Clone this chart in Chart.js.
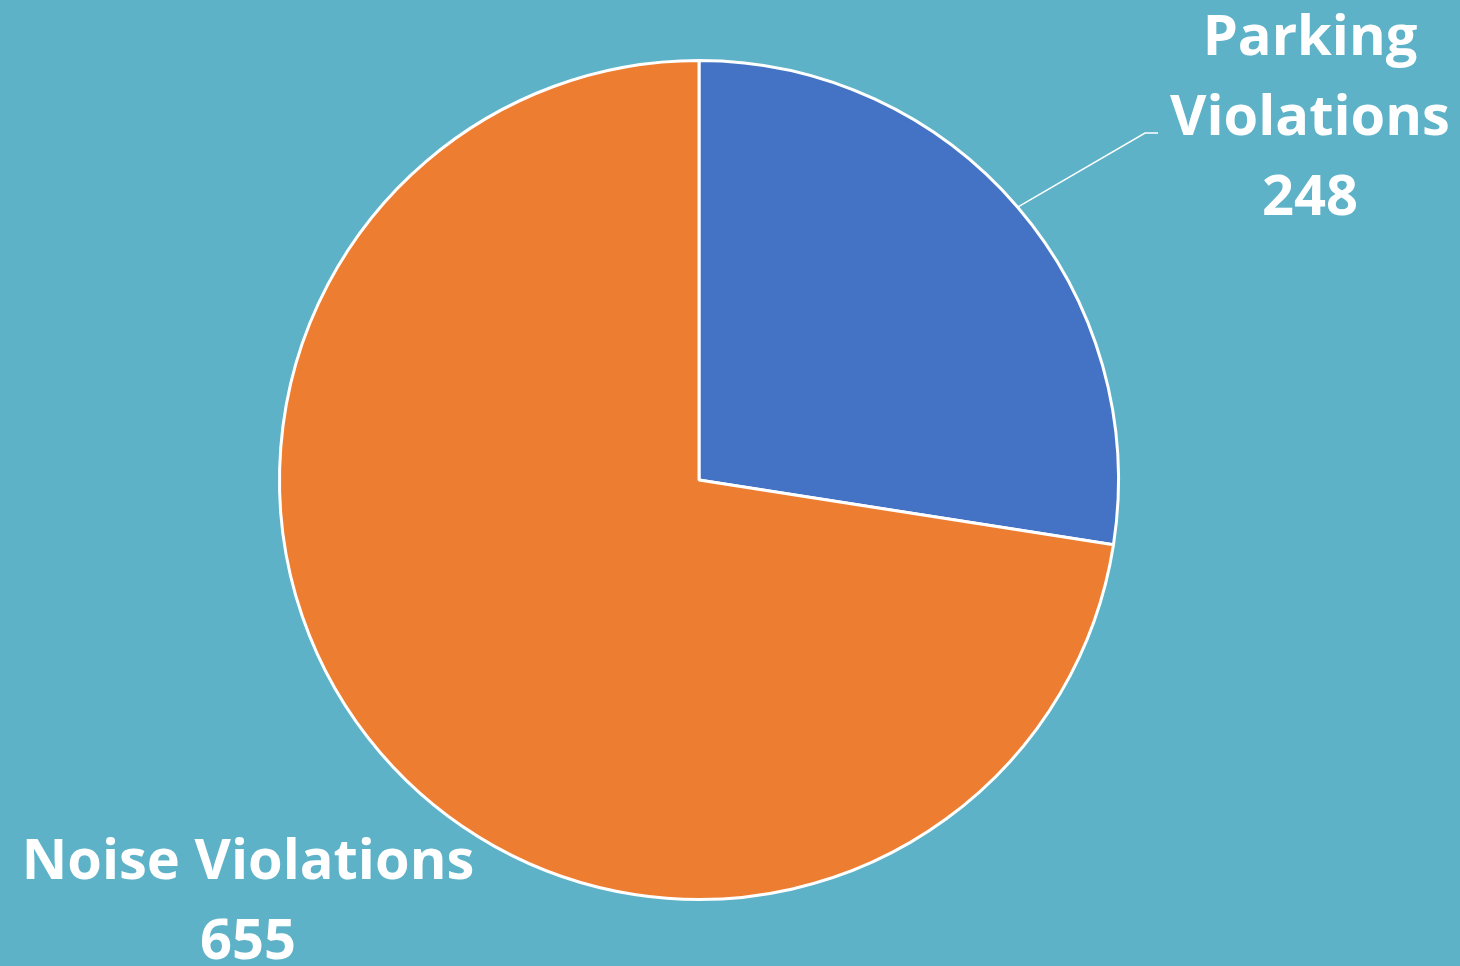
<!DOCTYPE html>
<html>
<head>
<meta charset="utf-8">
<script src="https://cdn.jsdelivr.net/npm/chart.js@4"></script>
<style>
  html, body { margin: 0; padding: 0; background: #5DB2C8; }
  #wrap { width: 1460px; height: 966px; }
</style>
</head>
<body>
<div id="wrap"><canvas id="pie" width="1460" height="966"></canvas></div>
<script>
const categories = ["Parking Violations", "Noise Violations"];
const counts = [248, 655];
const colors = ["#4472C4", "#ED7D31"];

// label text lines for each slice
const labelLines = [["Parking", "Violations", "248"], ["Noise Violations", "655"]];

const labelPlugin = {
  id: "sliceLabels",
  afterDraw(chart) {
    const ctx = chart.ctx;
    const arcs = chart.getDatasetMeta(0).data;
    const cx = arcs[0].x, cy = arcs[0].y, r = arcs[0].outerRadius;

    ctx.save();
    ctx.fillStyle = "#FFFFFF";
    ctx.font = "bold 56px 'Open Sans'";
    ctx.textAlign = "center";
    ctx.textBaseline = "alphabetic";

    // parking label, top right with leader line
    const a = (arcs[0].startAngle + arcs[0].endAngle) / 2;
    const sx = cx + Math.cos(a) * r, sy = cy + Math.sin(a) * r;
    ctx.strokeStyle = "#FFFFFF";
    ctx.lineWidth = 1.5;
    ctx.beginPath();
    ctx.moveTo(sx, sy);
    ctx.lineTo(cx + 446, cy - 347);
    ctx.lineTo(cx + 459, cy - 347);
    ctx.stroke();
    labelLines[0].forEach((t, i) => ctx.fillText(t, cx + 611, cy - 425 + i * 80));

    // noise label, bottom left
    labelLines[1].forEach((t, i) => ctx.fillText(t, cx - 451, cy + 399 + i * 80));
    ctx.restore();
  }
};

new Chart(document.getElementById("pie"), {
  type: "pie",
  data: {
    labels: categories,
    datasets: [{
      data: counts,
      backgroundColor: colors,
      borderColor: "#FFFFFF",
      borderWidth: 3
    }]
  },
  options: {
    responsive: false,
    animation: false,
    layout: { padding: { left: 278, right: 340, top: 59, bottom: 65 } },
    plugins: {
      legend: { display: false },
      tooltip: { enabled: false }
    }
  },
  plugins: [labelPlugin]
});
</script>
</body>
</html>
